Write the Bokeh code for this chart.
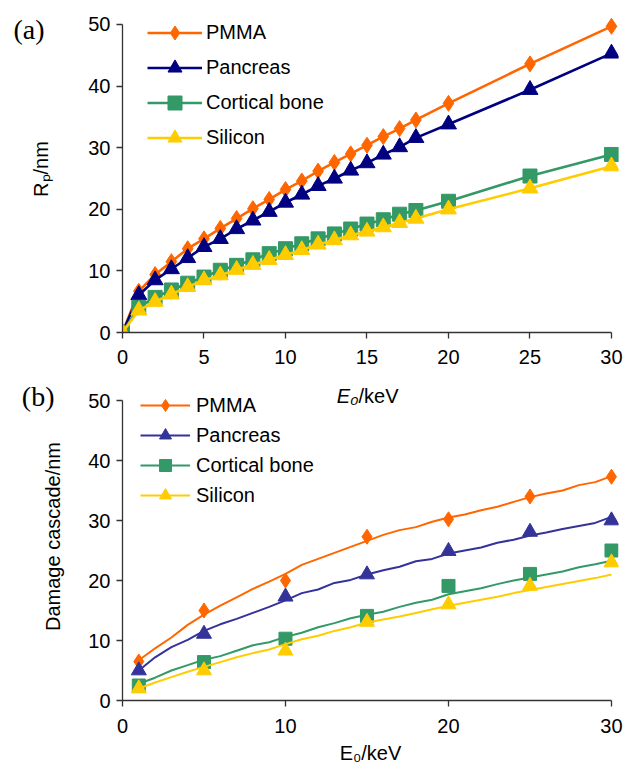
from bokeh.plotting import figure
from bokeh.models import Legend, LegendItem, FixedTicker, Range1d, LinearAxis, Label
from bokeh.layouts import column
from bokeh.embed import file_html
from bokeh.resources import INLINE

# ---------------- data: panel (a) ----------------
E_a = [0, 1, 2, 3, 4, 5, 6, 7, 8, 9, 10, 11, 12, 13, 14, 15, 16, 17, 18, 20, 25, 30]
pmma_a = [0, 6.7, 9.4, 11.5, 13.6, 15.2, 16.9, 18.5, 20.1, 21.6, 23.2, 24.6, 26.2,
          27.6, 29.0, 30.4, 31.8, 33.1, 34.5, 37.2, 43.6, 49.7]
pancreas_a = [0, 6.1, 8.5, 10.3, 12.1, 13.9, 15.2, 16.8, 18.2, 19.6, 21.1, 22.4, 23.8,
              25.0, 26.3, 27.5, 28.9, 30.1, 31.6, 33.8, 39.4, 45.3]
cortical_a = [0, 4.1, 5.7, 6.9, 8.0, 9.0, 10.1, 10.9, 11.8, 12.8, 13.6, 14.4, 15.2,
              16.0, 16.8, 17.6, 18.3, 19.2, 19.8, 21.3, 25.4, 28.9]
silicon_a = [0, 3.6, 5.0, 6.2, 7.4, 8.5, 9.3, 10.2, 11.0, 11.8, 12.6, 13.4, 14.3,
             15.0, 15.8, 16.4, 17.1, 17.8, 18.5, 20.0, 23.4, 27.0]

# ---------------- data: panel (b) ----------------
E_b = [1, 5, 10, 15, 20, 25, 30]
pmma_b = [6.5, 15.0, 20.0, 27.3, 30.2, 34.0, 37.3]
pancreas_b = [5.0, 11.1, 17.3, 21.0, 24.9, 28.1, 30.0]
cortical_b = [2.5, 6.4, 10.3, 14.1, 19.1, 21.1, 25.0]
silicon_b = [2.0, 5.0, 8.3, 13.1, 16.0, 19.1, 23.0]

E_line = list(range(1, 31))
pmma_line = [6.7, 8.7, 10.5, 12.6, 14.3, 15.8, 17.2, 18.6, 19.8, 21.1, 22.6, 23.6, 24.6,
             25.6, 26.6, 27.6, 28.4, 28.9, 29.8, 30.5, 31.0, 31.7, 32.3, 33.1, 33.9,
             34.5, 35.0, 35.9, 36.4, 37.4]
pancreas_line = [5.0, 7.2, 8.9, 10.1, 11.6, 12.7, 13.6, 14.6, 15.6, 16.7, 17.9, 18.5, 19.6,
                 20.1, 21.0, 21.7, 22.3, 23.2, 23.6, 24.5, 25.0, 25.5, 26.3, 26.8, 27.5,
                 28.0, 28.6, 29.1, 29.6, 30.6]
cortical_line = [2.8, 3.8, 5.0, 5.9, 6.8, 7.4, 8.3, 9.2, 9.7, 10.6, 11.3, 12.2, 12.9, 13.7,
                 14.3, 14.8, 15.6, 16.3, 16.8, 17.7, 18.2, 18.7, 19.4, 20.0, 20.5, 21.0,
                 21.5, 22.2, 22.7, 23.3]
silicon_line = [2.0, 3.0, 3.9, 4.8, 5.6, 6.4, 7.2, 7.9, 8.5, 9.4, 10.2, 10.8, 11.6, 12.2,
                13.0, 13.5, 14.0, 14.6, 15.2, 15.8, 16.3, 16.8, 17.3, 17.9, 18.4, 18.9,
                19.4, 19.9, 20.4, 21.0]

names = ["PMMA", "Pancreas", "Cortical bone", "Silicon"]
x_ticks_a = [0, 5, 10, 15, 20, 25, 30]
x_ticks_b = [0, 10, 20, 30]
y_ticks = [0, 10, 20, 30, 40, 50]
panel_tags = ["(a)", "(b)"]

FONT = "Liberation Sans"
AX = "#333333"


def style(p, xticks, yticks):
    p.xgrid.visible = False
    p.ygrid.visible = False
    p.outline_line_color = None
    p.background_fill_color = "white"
    p.border_fill_color = "white"
    for ax in (p.xaxis[0], p.yaxis[0]):
        ax.axis_line_color = AX
        ax.axis_line_width = 1.3
        ax.major_tick_line_color = AX
        ax.major_tick_line_width = 1.3
        ax.major_tick_out = 6
        ax.major_tick_in = 0
        ax.minor_tick_line_color = None
        ax.major_label_text_font = FONT
        ax.major_label_text_font_size = "20px"
        ax.major_label_text_color = "black"
        ax.axis_label_text_font = FONT
        ax.axis_label_text_font_size = "20px"
        ax.axis_label_text_font_style = "normal"
        ax.axis_label_text_color = "black"
    p.xaxis[0].ticker = FixedTicker(ticks=xticks)
    p.yaxis[0].ticker = FixedTicker(ticks=yticks)
    p.xaxis[0].bounds = (min(xticks), max(xticks))
    p.yaxis[0].bounds = (min(yticks), max(yticks))
    p.yaxis[0].major_label_standoff = 6


def panel_tag(p, text, pos, standoff):
    # the "(a)" / "(b)" tag, drawn as the only tick label of a bare extra left axis
    p.extra_y_ranges = {"tag": Range1d(0, 1000)}
    ax = LinearAxis(y_range_name="tag", ticker=FixedTicker(ticks=[pos]),
                    major_label_overrides={pos: text},
                    axis_line_color=None, major_tick_line_color=None,
                    minor_tick_line_color=None, major_tick_out=0, major_tick_in=0,
                    major_label_standoff=standoff,
                    major_label_text_font="Liberation Serif",
                    major_label_text_font_size="28px", major_label_text_color="black")
    p.add_layout(ax, "left")


def e0_title(p, x, y):
    # "E0/keV" with italic E and subscript 0, upright unit
    p.add_layout(Label(x=x, y=y, x_units="screen", y_units="screen", text="E\u2080",
                       text_font=FONT, text_font_size="20px", text_font_style="italic",
                       text_align="right", text_baseline="alphabetic", text_color="black"))
    p.add_layout(Label(x=x, y=y, x_units="screen", y_units="screen", text="/keV",
                       text_font=FONT, text_font_size="20px", text_font_style="normal",
                       text_align="left", text_baseline="alphabetic", text_color="black"))


# ---------------- panel (a) ----------------
p1 = figure(width=628, height=372, x_range=Range1d(0, 30.43), y_range=Range1d(0, 53.08),
            output_backend="svg", toolbar_location=None,
            min_border_left=122, min_border_right=10, min_border_top=5, min_border_bottom=40)
style(p1, x_ticks_a, y_ticks)
p1.yaxis[0].axis_label = "R\u209a/nm"
p1.yaxis[0].axis_label_standoff = 33
p1.xaxis[0].major_label_standoff = 11

cols_a = ["#FF6600", "#000080", "#339966", "#FFCC00"]
markers_a = ["diamond", "triangle", "square", "triangle"]
sizes_a = [16, 16, 14, 16]
series_a = [pmma_a, pancreas_a, cortical_a, silicon_a]
items_a = []
for name, ys, c, m, s in zip(names, series_a, cols_a, markers_a, sizes_a):
    ln = p1.line(E_a, ys, line_color=c, line_width=2.6)
    sc = p1.scatter(E_a, ys, marker=m, size=s, fill_color=c, line_color=c, line_width=1)
    items_a.append(LegendItem(label=name, renderers=[ln, sc]))

leg_a = Legend(items=items_a, location=(25, 177), glyph_width=55, glyph_height=35,
               label_height=35, spacing=0, padding=0, margin=0, label_standoff=4,
               border_line_color=None, background_fill_alpha=0,
               label_text_font=FONT, label_text_font_size="20px", label_text_color="black")
p1.add_layout(leg_a)
panel_tag(p1, panel_tags[0], 928, -17)

# ---------------- panel (b) ----------------
p2 = figure(width=628, height=398, x_range=Range1d(0, 30.43), y_range=Range1d(0, 54.67),
            output_backend="svg", toolbar_location=None,
            min_border_left=122, min_border_right=10, min_border_top=0, min_border_bottom=70)
style(p2, x_ticks_b, y_ticks)
p2.yaxis[0].axis_label = "Damage cascade/nm"
p2.yaxis[0].axis_label_standoff = 21
p2.xaxis[0].axis_label = "E\u2080/keV"
p2.xaxis[0].major_label_standoff = 12
p2.xaxis[0].axis_label_standoff = 6

cols_b = ["#FF6600", "#333399", "#339966", "#FFCC00"]
markers_b = ["diamond", "triangle", "square", "triangle"]
sizes_b = [15, 15, 13, 15]
series_b = [pmma_b, pancreas_b, cortical_b, silicon_b]
lines_b = [pmma_line, pancreas_line, cortical_line, silicon_line]
items_b = []
for name, ys, yl, c, m, s in zip(names, series_b, lines_b, cols_b, markers_b, sizes_b):
    ln = p2.line(E_line, yl, line_color=c, line_width=2)
    sc = p2.scatter(E_b, ys, marker=m, size=s, fill_color=c, line_color=c, line_width=1)
    items_b.append(LegendItem(label=name, renderers=[ln, sc]))

leg_b = Legend(items=items_b, location=(18, 190), glyph_width=50, glyph_height=30,
               label_height=30, spacing=0, padding=0, margin=0, label_standoff=6,
               border_line_color=None, background_fill_alpha=0,
               label_text_font=FONT, label_text_font_size="20px", label_text_color="black")
p2.add_layout(leg_b)
panel_tag(p2, panel_tags[1], 928, -15)

# x-axis title of panel (a): it sits in the strip shared with the top of panel (b)
e0_title(p2, 236, 305)

layout = column(p1, p2, spacing=0)
open("out.html", "w").write(file_html(layout, INLINE))
